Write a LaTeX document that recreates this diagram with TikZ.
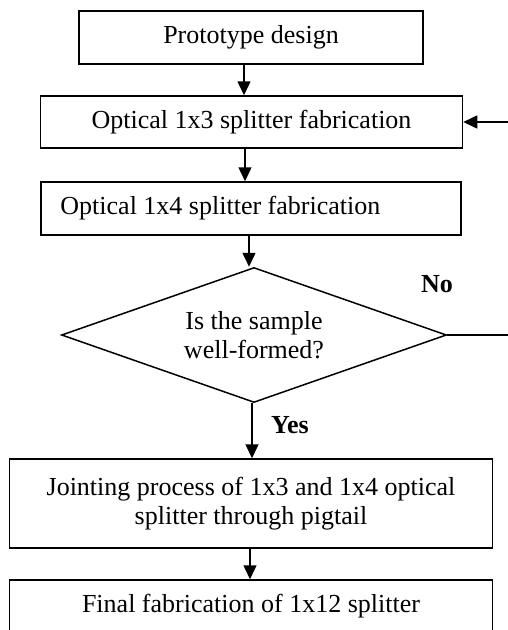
\documentclass[tikz,border=0pt]{standalone}
\usepackage{fontspec}
\setmainfont{Liberation Serif}
\usetikzlibrary{shapes.geometric,arrows.meta}
\begin{document}
\begin{tikzpicture}[x=1pt,y=-1pt,
  every node/.style={font=\fontsize{26}{29}\selectfont},
  box/.style={draw,line width=1.5pt,inner sep=0pt,align=center},
  dec/.style={draw,diamond,line width=1.5pt,inner sep=0pt,align=center,minimum width=385pt,minimum height=135pt,aspect=2.85},
  arr/.style={line width=1.5pt,-{Triangle[length=14pt,width=13pt]}},
  lbl/.style={font=\fontsize{26}{29}\selectfont\bfseries}]
\useasboundingbox (0,0) rectangle (508,630);
\node[box,minimum width=344pt,minimum height=53pt] (b1) at (251,37.5) {Prototype design};
\node[box,minimum width=422pt,minimum height=52pt] (b2) at (251.5,122) {Optical 1x3 splitter fabrication};
\node[box,minimum width=420pt,minimum height=53pt] (b3) at (251,208.5) {};
\node[anchor=west,inner sep=0pt] (t3) at ([xshift=20pt]b3.west) {Optical 1x4 splitter fabrication};
\node[dec] (d) at (254,335) {Is the sample\\well-formed?};
\node[box,minimum width=483pt,minimum height=89pt] (b5) at (251,503.5) {Jointing process of 1x3 and 1x4 optical\\splitter through pigtail};
\node[box,minimum width=483pt,minimum height=52pt] (b6) at (251,606) {Final fabrication of 1x12 splitter};
\node[lbl] (no) at (437,284) {No};
\node[lbl] (yes) at (290,425) {Yes};
\coordinate (r1) at (511,335);
\coordinate (r2) at (511,122);
\draw[arr] ([xshift=-7pt]b1.south) -- ([xshift=-7pt]b1.south |- b2.north);
\draw[arr] ([xshift=-6.5pt]b2.south) -- ([xshift=-6.5pt]b2.south |- b3.north);
\draw[arr] ([xshift=-2pt]b3.south) -- ([xshift=-2pt]b3.south |- d.north);
\draw[arr] ([xshift=-2pt]d.south) -- ([xshift=-2pt]d.south |- b5.north);
\draw[arr] ([xshift=-1pt]b5.south) -- ([xshift=-1pt]b5.south |- b6.north);
\draw[arr] (d.east) -- (r1) -- (r2) -- (b2.east);
\end{tikzpicture}
\end{document}
